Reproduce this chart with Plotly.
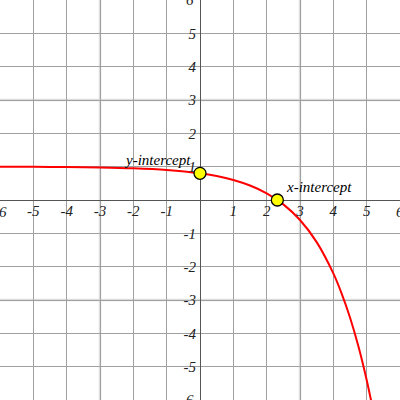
import plotly.graph_objects as go

# Curve points
curve_x = [-6, -5, -4, -3, -2, -1, 0, 0.5, 1, 1.5, 2, 2.5, 3, 3.5, 4, 4.25, 4.5, 4.75, 5, 5.15]
curve_y = [0.997, 0.994, 0.988, 0.975, 0.95, 0.9, 0.8, 0.717, 0.6, 0.434, 0.2, -0.131, -0.6,
           -1.263, -2.2, -2.806, -3.525, -4.382, -5.4, -6.1]

# Intercept points
pt_x = [0, 2.32]
pt_y = [0.8, 0]
pt_labels = ["y-intercept", "x-intercept"]

tick_vals = [-5, -4, -3, -2, -1, 1, 2, 3, 4, 5]
tick_text = ["-5", "-4", "-3", "-2", "-1", "1", "2", "3", "4", "5"]
edge_vals = [-6, 6]
edge_text = ["-6", "6"]
light_lines = [-3, 3]

serif = "Liberation Serif, Times New Roman, serif"
lab_font = dict(family=serif, size=15, style="italic", color="#222")

fig = go.Figure()
fig.add_trace(go.Scatter(x=curve_x, y=curve_y, mode="lines",
                         line=dict(color="#ff0000", width=2, shape="spline", smoothing=0.8),
                         hoverinfo="skip", showlegend=False))
fig.add_trace(go.Scatter(x=pt_x, y=pt_y, mode="markers",
                         marker=dict(size=12, color="#ffff00", line=dict(color="#000000", width=1.3)),
                         showlegend=False))

for v in light_lines:
    fig.add_shape(type="line", x0=v, x1=v, y0=-6, y1=6, layer="below",
                  line=dict(color="#dddddd", width=2.5))
    fig.add_shape(type="line", x0=-6, x1=6, y0=v, y1=v, layer="below",
                  line=dict(color="#dddddd", width=2.5))

# edge tick labels (cut by the border in the reference)
for v, t in zip(edge_vals, edge_text):
    fig.add_annotation(x=v, y=0, text=t, showarrow=False, xanchor="center", yanchor="top",
                       yshift=-2, font=lab_font)
    fig.add_annotation(x=0, y=v, text=t, showarrow=False, xanchor="right", yanchor="middle",
                       xshift=-4, font=lab_font)

fig.add_annotation(x=pt_x[0], y=pt_y[0], text=pt_labels[0], showarrow=False,
                   xanchor="right", yanchor="middle", xshift=-7, yshift=13,
                   font=dict(family=serif, size=15, style="italic", color="#000"))
fig.add_annotation(x=pt_x[1], y=pt_y[1], text=pt_labels[1], showarrow=False,
                   xanchor="left", yanchor="middle", xshift=7, yshift=13,
                   font=dict(family=serif, size=15, style="italic", color="#000"))

axis_common = dict(range=[-6, 6], tickvals=tick_vals, ticktext=tick_text,
                   showgrid=True, gridcolor="#a0a0a0", gridwidth=1,
                   zeroline=True, zerolinecolor="#555555", zerolinewidth=1.2,
                   showline=False, ticks="", automargin=False, fixedrange=True,
                   anchor="free", position=0.5, tickfont=lab_font)

fig.update_layout(
    width=400, height=400,
    margin=dict(l=0, r=0, t=0, b=0),
    paper_bgcolor="white", plot_bgcolor="white",
    xaxis=dict(**axis_common, ticklabelstandoff=0),
    yaxis=dict(**axis_common, ticklabelstandoff=4),
    showlegend=False,
)

fig.write_html("out.html", config={"displayModeBar": False},
               post_script="document.body.style.margin='0';")
